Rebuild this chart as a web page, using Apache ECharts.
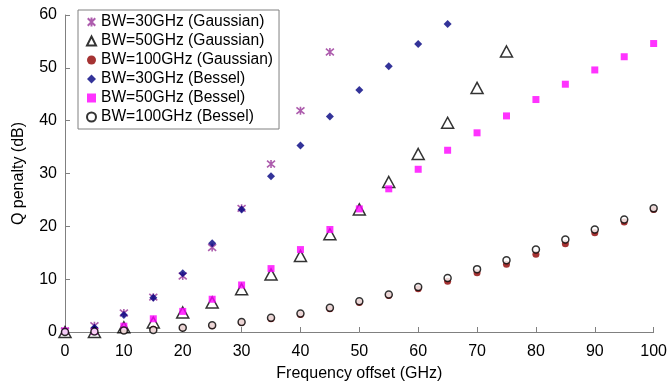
<!DOCTYPE html>
<html><head><meta charset="utf-8">
<script src="https://cdn.jsdelivr.net/npm/echarts@6/dist/echarts.min.js"></script>
<style>html,body{margin:0;padding:0;background:#fff}#c{width:670px;height:387px}</style>
</head><body><div id="c"></div>
<script>
var xStep = [0,5,10,15,20,25,30,35,40,45,50,55,60,65,70,75,80,85,90,95,100];
var gauss30 = [0.2,1.2,3.6,6.6,10.6,16.0,23.4,31.8,41.9,53.0];
var gauss50 = [0,0,0.9,1.8,3.7,5.6,8.1,10.9,14.4,18.5,23.2,28.4,33.7,39.6,46.2,53.1];
var gauss100 = [0,0.1,0.3,0.5,0.8,1.2,1.8,2.5,3.3,4.4,5.6,6.9,8.2,9.6,11.2,12.8,14.7,16.7,18.8,20.8,23.2];
var bessel30 = [0.1,0.8,3.2,6.5,11.1,16.8,23.2,29.5,35.3,40.8,45.8,50.3,54.5,58.3];
var bessel50 = [0.2,0.1,1.1,2.5,3.9,6.2,8.9,12.0,15.6,19.4,23.3,27.1,30.8,34.4,37.7,40.9,44.0,46.9,49.6,52.1,54.6];
var bessel100 = [0,0.1,0.3,0.4,0.8,1.3,1.9,2.7,3.5,4.6,5.8,7.1,8.5,10.2,11.9,13.6,15.6,17.5,19.4,21.3,23.4];
var names = ['BW=30GHz (Gaussian)','BW=50GHz (Gaussian)','BW=100GHz (Gaussian)','BW=30GHz (Bessel)','BW=50GHz (Bessel)','BW=100GHz (Bessel)'];
var yTicks = [0,10,20,30,40,50,60];

function pts(arr){ return arr.map(function(v,i){ return [xStep[i], v]; }); }
var FONT = 'Liberation Sans';
var asterisk = 'path://M0,0L10,10M10,0L0,10M5,-1L5,11';

var chart = echarts.init(document.getElementById('c'), null, {renderer:'canvas'});
chart.setOption({
  animation:false,
  backgroundColor:'#fff',
  grid:{left:65, right:14, top:15, bottom:54},
  legend:{
    orient:'vertical', left:78, top:10, data:names,
    borderColor:'#808080', borderWidth:1, borderRadius:0,
    padding:[4,6,4,8], itemGap:3, itemWidth:9, itemHeight:9,
    textStyle:{fontFamily:FONT, fontSize:15.6, color:'#000'}
  },
  xAxis:{
    type:'value', min:0, max:100, interval:10,
    name:'Frequency offset (GHz)', nameLocation:'middle', nameGap:34,
    nameTextStyle:{fontFamily:FONT, fontSize:16, color:'#000'},
    axisLine:{lineStyle:{color:'#808080', width:1}},
    axisTick:{inside:true, length:5, lineStyle:{color:'#808080'}},
    axisLabel:{fontFamily:FONT, fontSize:16, color:'#000', margin:12},
    splitLine:{show:false}
  },
  yAxis:{
    type:'value', min:0, max:60, interval:10,
    name:'Q penalty (dB)', nameLocation:'middle', nameGap:38,
    nameTextStyle:{fontFamily:FONT, fontSize:16, color:'#000'},
    axisLine:{show:true, lineStyle:{color:'#808080', width:1}},
    axisTick:{show:true, inside:true, length:5, lineStyle:{color:'#808080'}},
    axisLabel:{fontFamily:FONT, fontSize:16, color:'#000', margin:8,
      formatter:function(v){ return yTicks.indexOf(v)>=0 ? String(v) : ''; }},
    splitLine:{show:false}
  },
  series:[
    {name:names[0], type:'scatter', data:pts(gauss30), symbol:asterisk, symbolSize:8,
     itemStyle:{color:'#993399', borderColor:'#993399', borderWidth:1.6}},
    {name:names[1], type:'scatter', data:pts(gauss50), symbol:'triangle', symbolSize:[12,11],
     itemStyle:{color:'rgba(255,255,255,0)', borderColor:'#000', borderWidth:1.5}},
    {name:names[2], type:'scatter', data:pts(gauss100), symbol:'circle', symbolSize:7,
     itemStyle:{color:'#8E0000'}},
    {name:names[3], type:'scatter', data:pts(bessel30), symbol:'diamond', symbolSize:8,
     itemStyle:{color:'#000080'}},
    {name:names[4], type:'scatter', data:pts(bessel50), symbol:'rect', symbolSize:7,
     itemStyle:{color:'#FF00FF'}},
    {name:names[5], type:'scatter', data:pts(bessel100), symbol:'circle', symbolSize:7,
     itemStyle:{color:'#fff', borderColor:'#000', borderWidth:1.5}}
  ]
});
</script></body></html>
